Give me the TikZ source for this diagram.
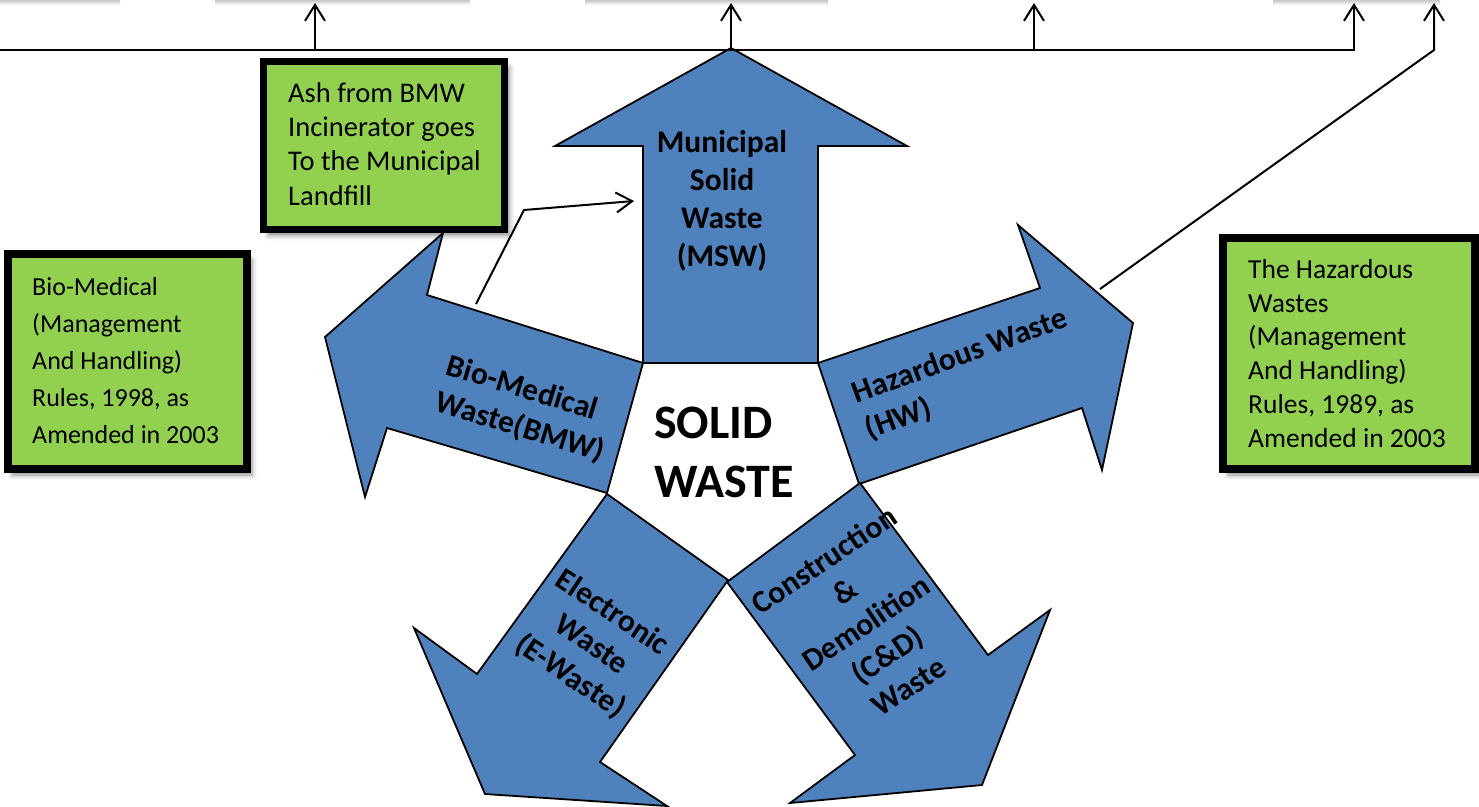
\documentclass[tikz,border=0pt]{standalone}
\usepackage{fontspec}
\setmainfont{Carlito}
\usetikzlibrary{arrows.meta,shadows.blur}
\definecolor{arrowblue}{HTML}{4F81BD}
\definecolor{boxgreen}{HTML}{92D050}
\begin{document}
\begin{tikzpicture}[x=1pt,y=-1pt,
  bigarrow/.style={fill=arrowblue,draw=black,line width=1.8pt,line join=miter},
  conn/.style={draw=black,line width=2pt,line join=miter},
  tipped/.style={-{Straight Barb[length=16pt,width=20pt]}},
  greenbox/.style={draw=black,fill=boxgreen,inner sep=0pt,
    blur shadow={shadow xshift=5pt,shadow yshift=-6pt,shadow blur radius=5pt,shadow opacity=45}},
  boxtext/.style={anchor=north west,inner sep=0pt,align=left},
  lbl/.style={inner sep=0pt,font=\bfseries\fontsize{31.5}{38}\selectfont},
  topshade/.style={top color=black!22,bottom color=white}]
\useasboundingbox (0,0) rectangle (1479,806);
\clip (0,0) rectangle (1479,806);

% shadows of boxes above the visible area
\shade[topshade] (0,0) rectangle (120,5);
\shade[topshade] (215,0) rectangle (470,5);
\shade[topshade] (585,0) rectangle (828,5);
\shade[topshade] (1273,0) rectangle (1440,5);

% five block arrows
\draw[bigarrow] (643,363) -- (643,146) -- (555,146) -- (731,48) -- (907,146) -- (818,146) -- (818,363) -- cycle;
\draw[bigarrow] (643,363) -- (427,295) -- (443,233) -- (325,337) -- (365,497) -- (387,428) -- (607,493) -- cycle;
\draw[bigarrow] (818,363) -- (1040,288) -- (1018,225) -- (1133,323) -- (1102,470) -- (1082,408) -- (859,484) -- cycle;
\draw[bigarrow] (860,483) -- (988,655) -- (1050,610) -- (982,785) -- (790,803) -- (855,755) -- (727,582) -- cycle;
\draw[bigarrow] (728,580) -- (600,762) -- (667,806) -- (485,794) -- (414,628) -- (477,674) -- (607,494) -- cycle;

% arrow labels
\node[lbl,align=center] (msw) at (722,201) {Municipal\\Solid\\Waste\\(MSW)};
\node[lbl,align=left,rotate=-17,anchor=north west] (bmw) at (452,350) {\rule{0pt}{25pt}Bio-Medical\\Waste(BMW)};
\node[lbl,align=left,rotate=20,anchor=north west] (hw) at (848,380) {\rule{0pt}{25pt}Hazardous Waste\\(HW)};
\node[lbl,align=center,rotate=-33.7] (ew) at (591,645) {Electronic\\Waste\\(E-Waste)};
\node[lbl,align=center,rotate=33.8] (cd) at (866,623) {Construction\\\&\\Demolition\\(C\&D)\\Waste};
\node[anchor=north west,inner sep=0pt,align=left,font=\bfseries\fontsize{48}{59}\selectfont] (solid) at (654,403) {\rule{0pt}{35pt}SOLID\\WASTE};

% green boxes
\node[greenbox,line width=7pt,minimum width=241pt,minimum height=168pt] (ashbox) at (384,145.5) {};
\node[greenbox,line width=8pt,minimum width=239.5pt,minimum height=215pt] (biobox) at (127.25,361.5) {};
\node[greenbox,line width=8pt,minimum width=252pt,minimum height=231.5pt] (hwbox) at (1349,353.25) {};
\node[boxtext,font=\fontsize{28.5}{34.3}\selectfont] (ashtext) at (288,77) {\rule{0pt}{25pt}Ash from BMW\\Incinerator goes\\To the Municipal\\Landfill};
\node[boxtext,font=\fontsize{26}{37}\selectfont] (biotext) at (32,270) {\rule{0pt}{25pt}Bio-Medical\\(Management\\And Handling)\\Rules, 1998, as\\Amended in 2003};
\node[boxtext,font=\fontsize{27.5}{33.8}\selectfont] (hwtext) at (1248,253) {\rule{0pt}{25pt}The Hazardous\\Wastes\\(Management\\And Handling)\\Rules, 1989, as\\Amended in 2003};

% connectors
\coordinate (l0) at (0,50);
\coordinate (lr) at (1354,50);
\coordinate (ur) at (1354,3);
\draw[conn,tipped] (l0) -- (lr) -- (ur);
\foreach \x/\n in {315/a,731/b,1034/c}{
  \coordinate (base\n) at (\x,50);
  \coordinate (top\n) at (\x,3);
  \draw[conn,tipped] (base\n) -- (top\n);
}
\coordinate (bmwout) at (476,304);
\coordinate (bend1) at (524,210);
\coordinate (mswin) at (634,201);
\draw[conn,tipped] (bmwout) -- (bend1) -- (mswin);
\coordinate (hwout) at (1100,289);
\coordinate (bend2) at (1434,50);
\coordinate (tope) at (1434,3);
\draw[conn,tipped] (hwout) -- (bend2) -- (tope);
\end{tikzpicture}
\end{document}
